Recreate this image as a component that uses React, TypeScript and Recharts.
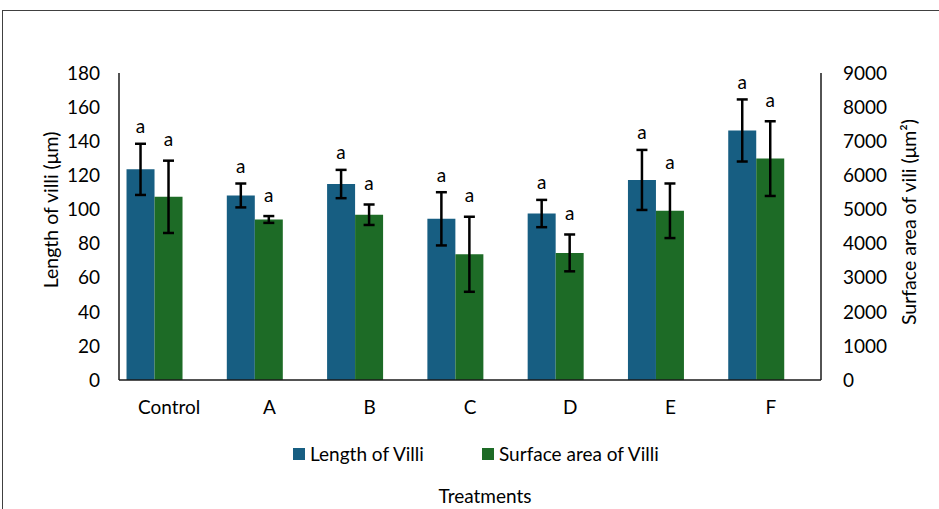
import React from 'react';
import { ComposedChart, Bar, XAxis, YAxis, ErrorBar, LabelList, Legend, Label } from 'recharts';

const categories = ['Control', 'A', 'B', 'C', 'D', 'E', 'F'];
const lengthOfVilli = [123.5, 108.2, 114.9, 94.5, 97.6, 117.3, 146.3];
const lengthErr = [15, 7, 8.3, 15.6, 8, 17.6, 18.2];
const surfaceArea = [5370, 4706, 4845, 3686, 3726, 4961, 6490];
const surfaceErr = [1060, 100, 300, 1100, 540, 800, 1095];
const lengthLetters = ['a', 'a', 'a', 'a', 'a', 'a', 'a'];
const surfaceLetters = ['a', 'a', 'a', 'a', 'a', 'a', 'a'];
const leftTicks = [0, 20, 40, 60, 80, 100, 120, 140, 160, 180];
const rightTicks = [0, 1000, 2000, 3000, 4000, 5000, 6000, 7000, 8000, 9000];

const data = categories.map((name, i) => ({
  name,
  length: lengthOfVilli[i],
  lengthErr: lengthErr[i],
  surface: surfaceArea[i],
  surfaceErr: surfaceErr[i],
  spacer: 0,
}));

const FONT = 'Lato, "Noto Sans", sans-serif';
const FS = 19;
const BLUE = '#175E82';
const GREEN = '#1D6B26';
const AXIS = '#1a1a1a';

const makeLetterLabel = (errs: number[], letters: string[], gap: number) => (props: any) => {
  const x = Number(props.x);
  const y = Number(props.y);
  const width = Number(props.width);
  const height = Number(props.height);
  const value = Number(props.value);
  const index = Number(props.index);
  const errPx = value ? (errs[index] * height) / value : 0;
  return (
    <text
      x={x + width / 2}
      y={y - errPx - gap + 4.5}
      textAnchor="middle"
      fill="#000"
      fontFamily={FONT}
      fontSize={FS}
    >
      {letters[index]}
    </text>
  );
};

const renderLegend = () => (
  <div
    style={{
      display: 'flex',
      justifyContent: 'flex-start',
      paddingLeft: 293,
      fontFamily: FONT,
      fontSize: FS,
      color: '#000',
      lineHeight: '24px',
    }}
  >
    <span style={{ display: 'flex', alignItems: 'center', width: 189 }}>
      <span style={{ width: 12, height: 12, background: BLUE, marginRight: 5, display: 'inline-block' }} />
      Length of Villi
    </span>
    <span style={{ display: 'flex', alignItems: 'center' }}>
      <span style={{ width: 12, height: 12, background: GREEN, marginRight: 5, display: 'inline-block' }} />
      Surface area of Villi
    </span>
  </div>
);

const tickStyle = { fill: '#000', fontSize: FS, fontFamily: FONT };

export default function App() {
  return (
    <div style={{ position: 'absolute', left: 0, top: 0, width: 939, height: 509, overflow: 'hidden', background: '#fff' }}>
      <div
        style={{
          position: 'absolute',
          left: 2,
          top: 10,
          width: 980,
          height: 560,
          border: '1px solid #404040',
          boxSizing: 'border-box',
        }}
      />
      <div style={{ position: 'absolute', left: 0, top: 0 }}>
        <ComposedChart
          width={939}
          height={509}
          data={data}
          margin={{ top: 73, right: 0, bottom: 0, left: 0 }}
          barCategoryGap="7.5%"
          barGap={0}
        >
          <XAxis
            dataKey="name"
            height={129}
            axisLine={{ stroke: AXIS, strokeWidth: 1.5 }}
            tickLine={false}
            tickMargin={15}
            tick={tickStyle}
            interval={0}
          >
            <Label
              content={() => (
                <text x={485} y={495} textAnchor="middle" dominantBaseline="central" fill="#000" fontFamily={FONT} fontSize={FS}>
                  Treatments
                </text>
              )}
            />
          </XAxis>
          <YAxis
            yAxisId="left"
            orientation="left"
            width={119}
            domain={[0, 180]}
            ticks={leftTicks}
            interval={0}
            axisLine={{ stroke: AXIS, strokeWidth: 1.5 }}
            tickLine={false}
            tickMargin={13}
            tick={tickStyle}
          >
            <Label
              content={() => (
                <text
                  transform="translate(50,210) rotate(-90)"
                  textAnchor="middle"
                  dominantBaseline="central"
                  fill="#000"
                  fontFamily={FONT}
                  fontSize={19.5}
                >
                  Length of villi (μm)
                </text>
              )}
            />
          </YAxis>
          <YAxis
            yAxisId="right"
            orientation="right"
            width={118}
            domain={[0, 9000]}
            ticks={rightTicks}
            interval={0}
            axisLine={{ stroke: AXIS, strokeWidth: 1.5 }}
            tickLine={false}
            tickMargin={16}
            tick={tickStyle}
          >
            <Label
              content={() => (
                <text
                  transform="translate(908,222) rotate(-90)"
                  textAnchor="middle"
                  dominantBaseline="central"
                  fill="#000"
                  fontFamily={FONT}
                  fontSize={19.5}
                >
                  Surface area of vili (μm²)
                </text>
              )}
            />
          </YAxis>
          <Legend
            verticalAlign="middle"
            align="center"
            layout="horizontal"
            content={renderLegend}
            wrapperStyle={{ position: 'absolute', top: 442, left: 0, width: 939 }}
          />
          <Bar yAxisId="left" dataKey="length" name="Length of Villi" fill={BLUE} isAnimationActive={false}>
            <ErrorBar dataKey="lengthErr" width={5.5} stroke="#000" strokeWidth={2.5} direction="y" />
            <LabelList dataKey="length" content={makeLetterLabel(lengthErr, lengthLetters, 15)} />
          </Bar>
          <Bar yAxisId="right" dataKey="surface" name="Surface area of Villi" fill={GREEN} isAnimationActive={false}>
            <ErrorBar dataKey="surfaceErr" width={5.5} stroke="#000" strokeWidth={2.5} direction="y" />
            <LabelList dataKey="surface" content={makeLetterLabel(surfaceErr, surfaceLetters, 19)} />
          </Bar>
          <Bar yAxisId="left" dataKey="spacer" fill="transparent" legendType="none" isAnimationActive={false} />
        </ComposedChart>
      </div>
    </div>
  );
}
